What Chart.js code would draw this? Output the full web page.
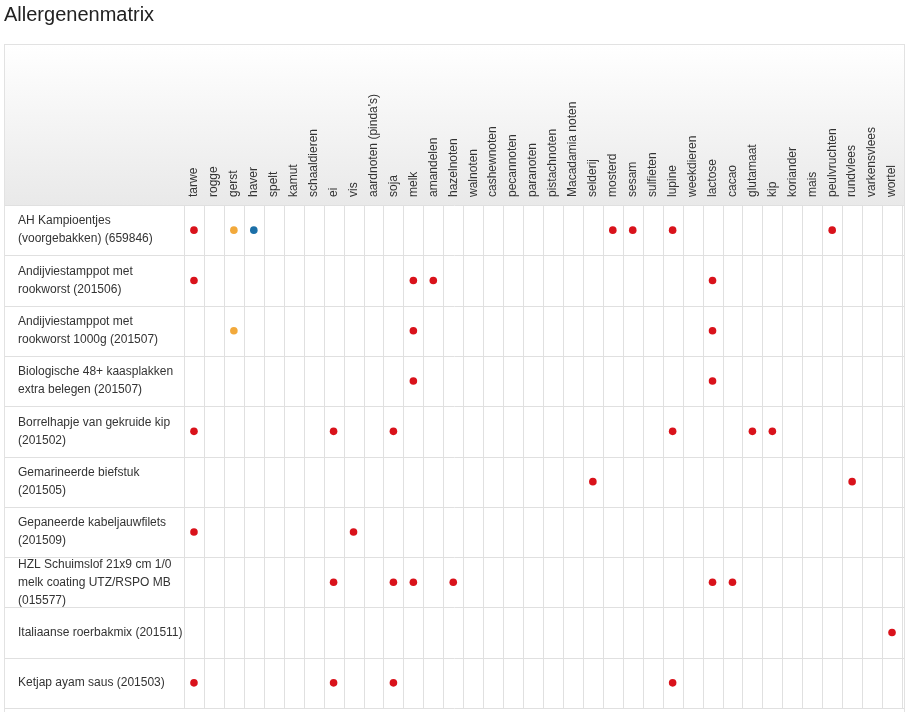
<!DOCTYPE html>
<html>
<head>
<meta charset="utf-8">
<script src="https://cdn.jsdelivr.net/npm/chart.js@4/dist/chart.umd.min.js"></script>
<style>
body { margin: 0; background: #fff; }
#wrap { width: 910px; height: 712px; position: relative; }
</style>
</head>
<body>
<div id="wrap"><canvas id="chart"></canvas></div>
<script>
const allergens = ['tarwe', 'rogge', 'gerst', 'haver', 'spelt', 'kamut', 'schaaldieren', 'ei', 'vis',
    "aardnoten (pinda's)", 'soja', 'melk', 'amandelen', 'hazelnoten', 'walnoten', 'cashewnoten',
    'pecannoten', 'paranoten', 'pistachnoten', 'Macadamia noten', 'selderij', 'mosterd', 'sesam',
    'sulfieten', 'lupine', 'weekdieren', 'lactose', 'cacao', 'glutamaat', 'kip', 'koriander', 'mais',
    'peulvruchten', 'rundvlees', 'varkensvlees', 'wortel'];

const products = [
    ['AH Kampioentjes', '(voorgebakken) (659846)'],
    ['Andijviestamppot met', 'rookworst (201506)'],
    ['Andijviestamppot met', 'rookworst 1000g (201507)'],
    ['Biologische 48+ kaasplakken', 'extra belegen (201507)'],
    ['Borrelhapje van gekruide kip', '(201502)'],
    ['Gemarineerde biefstuk', '(201505)'],
    ['Gepaneerde kabeljauwfilets', '(201509)'],
    ['HZL Schuimslof 21x9 cm 1/0', 'melk coating UTZ/RSPO MB', '(015577)'],
    ['Italiaanse roerbakmix (201511)'],
    ['Ketjap ayam saus (201503)']
];

// [row, allergen] per kind of mark
const contains = [
    [0, 'tarwe'], [0, 'mosterd'], [0, 'sesam'], [0, 'lupine'], [0, 'peulvruchten'],
    [1, 'tarwe'], [1, 'melk'], [1, 'amandelen'], [1, 'lactose'],
    [2, 'melk'], [2, 'lactose'],
    [3, 'melk'], [3, 'lactose'],
    [4, 'tarwe'], [4, 'ei'], [4, 'soja'], [4, 'lupine'], [4, 'glutamaat'], [4, 'kip'],
    [5, 'selderij'], [5, 'rundvlees'],
    [6, 'tarwe'], [6, 'vis'],
    [7, 'ei'], [7, 'soja'], [7, 'melk'], [7, 'hazelnoten'], [7, 'lactose'], [7, 'cacao'],
    [8, 'wortel'],
    [9, 'tarwe'], [9, 'ei'], [9, 'soja'], [9, 'lupine']
];
const mayContain = [[0, 'gerst'], [2, 'gerst']];
const other = [[0, 'haver']];

const toPoints = list => list.map(([r, a]) => ({ x: allergens.indexOf(a), y: r }));

const FONT = '"Liberation Sans", Arial, sans-serif';

const matrixPlugin = {
    id: 'matrix',
    beforeDatasetsDraw(chart) {
        const ctx = chart.ctx;
        const xs = chart.scales.x, ys = chart.scales.y;
        const area = chart.chartArea;
        ctx.save();
        // header background
        const g = ctx.createLinearGradient(0, 45, 0, area.top);
        g.addColorStop(0, '#ffffff');
        g.addColorStop(1, '#e9e9e9');
        ctx.fillStyle = g;
        ctx.fillRect(5, 45, 899, area.top - 45);
        ctx.strokeStyle = '#e2e2e2';
        ctx.lineWidth = 1;
        ctx.strokeRect(4.5, 44.5, 900, 668);
        // vertical lines
        ctx.strokeStyle = '#e0e0e0';
        for (let k = 0; k <= allergens.length; k++) {
            const x = Math.round(xs.getPixelForValue(k - 0.5)) + 0.5;
            ctx.beginPath();
            ctx.moveTo(x, area.top);
            ctx.lineTo(x, area.bottom);
            ctx.stroke();
        }
        // row lines
        for (let r = 0; r <= products.length; r++) {
            const y = Math.round(ys.getPixelForValue(r - 0.5)) + 0.5;
            ctx.beginPath();
            ctx.moveTo(5, y);
            ctx.lineTo(904, y);
            ctx.stroke();
        }
        // header labels
        ctx.fillStyle = '#333';
        ctx.font = '12px ' + FONT;
        ctx.textAlign = 'left';
        ctx.textBaseline = 'middle';
        allergens.forEach((a, i) => {
            ctx.save();
            ctx.translate(xs.getPixelForValue(i), area.top - 8);
            ctx.rotate(-Math.PI / 2);
            ctx.fillText(a, 0, 0);
            ctx.restore();
        });
        // row labels
        products.forEach((lines, r) => {
            const cy = ys.getPixelForValue(r);
            const lh = 18;
            lines.forEach((t, i) => {
                ctx.fillText(t, 18, cy + (i - (lines.length - 1) / 2) * lh);
            });
        });
        // title
        ctx.font = '20px ' + FONT;
        ctx.fillStyle = '#222';
        ctx.fillText('Allergenenmatrix', 4, 15);
        ctx.restore();
    }
};

new Chart(document.getElementById('chart'), {
    type: 'scatter',
    data: {
        datasets: [
            { label: 'bevat', data: toPoints(contains), backgroundColor: '#d9121b', borderWidth: 0, pointRadius: 3.8 },
            { label: 'kan bevatten', data: toPoints(mayContain), backgroundColor: '#f2a93b', borderWidth: 0, pointRadius: 3.8 },
            { label: 'overig', data: toPoints(other), backgroundColor: '#1b6fa8', borderWidth: 0, pointRadius: 3.8 }
        ]
    },
    options: {
        responsive: true,
        maintainAspectRatio: false,
        animation: false,
        layout: { padding: { left: 184, top: 205, right: 8, bottom: 2 } },
        scales: {
            x: { type: 'linear', min: -0.5, max: allergens.length - 0.5, display: false },
            y: { type: 'linear', min: -0.5, max: products.length - 0.5, reverse: true, display: false }
        },
        plugins: { legend: { display: false }, tooltip: { enabled: false } }
    },
    plugins: [matrixPlugin]
});
</script>
</body>
</html>
